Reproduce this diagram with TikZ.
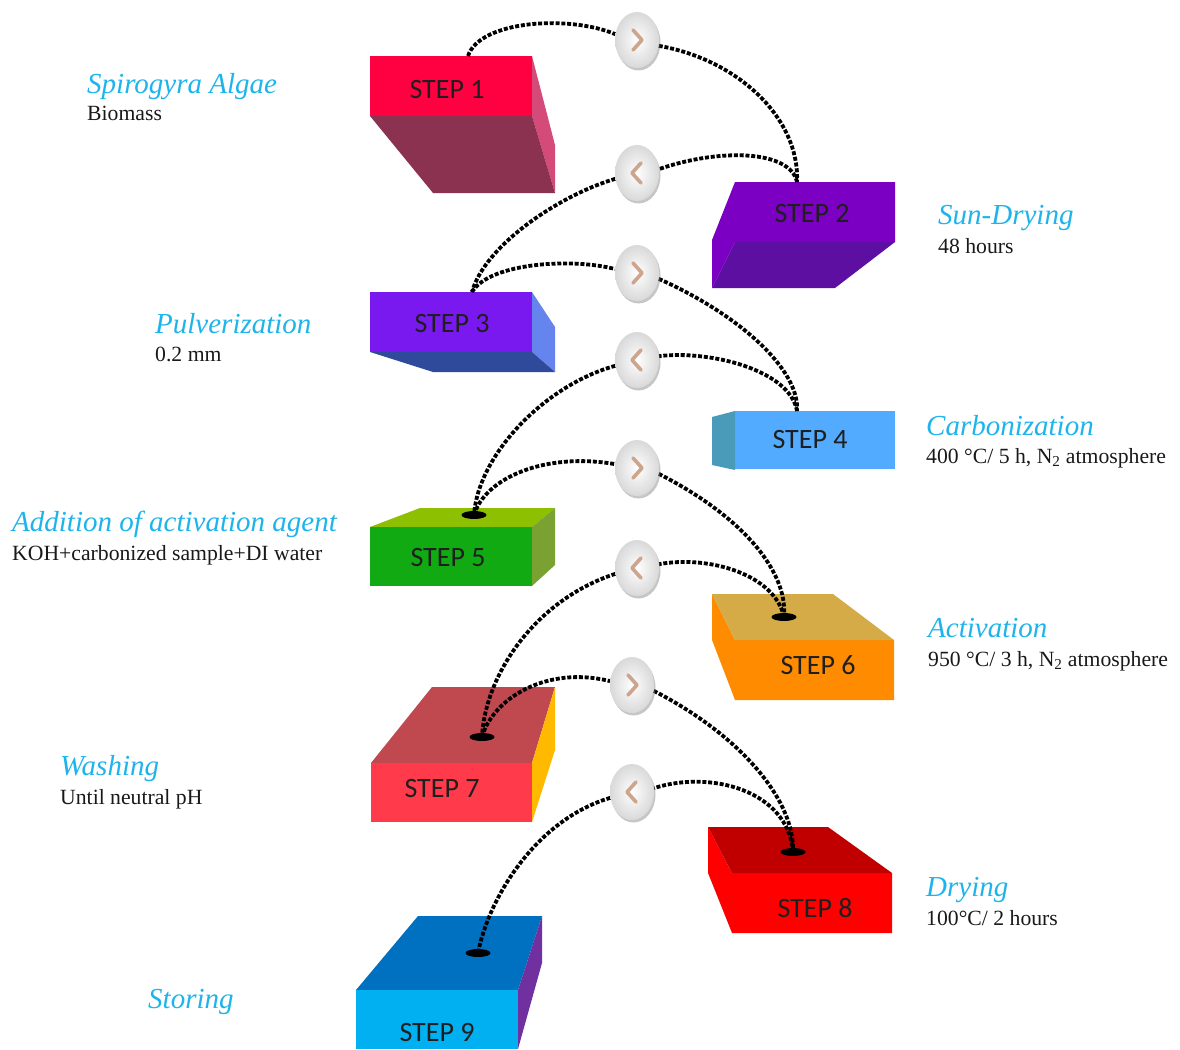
\documentclass[tikz,border=0pt]{standalone}
\usepackage{fontspec}
\setmainfont{Liberation Serif}
\newfontfamily\stepfont{Carlito}
\usetikzlibrary{shapes.geometric,shadows}
\definecolor{lblue}{RGB}{30,180,235}
\definecolor{chevc}{RGB}{205,165,140}
\begin{document}
\begin{tikzpicture}[x=1pt,y=-1pt,
 lab/.style={anchor=base west, inner sep=0pt, text=lblue, font=\fontsize{29}{31}\selectfont\itshape},
 sub/.style={anchor=base west, inner sep=0pt, text=black!90, font=\fontsize{21.7}{24}\selectfont},
 steptxt/.style={inner sep=0pt, font=\stepfont\fontsize{28}{30}\selectfont, text=black!88},
 link/.style={draw=black, line width=3.8pt, dash pattern=on 4pt off 1.8pt},
 hole/.style={ellipse, fill=black, minimum width=25pt, minimum height=8pt, inner sep=0pt},
 knob/.style={ellipse, minimum width=44pt, minimum height=56pt, inner sep=0pt,
   inner color=white, outer color=gray!30,
   drop shadow={shadow xshift=1.5pt, shadow yshift=-2.5pt, opacity=0.45, fill=gray}},
 chev/.style={draw=chevc, line width=3.6pt, line cap=round, line join=round}]
\useasboundingbox (0,0) rectangle (1180,1049);

% ---------- blocks ----------
% step 1
\fill[fill={rgb,255:red,255;green,0;blue,64}] (370,56) rectangle (532,116);
\fill[fill={rgb,255:red,212;green,74;blue,120}] (532,56) -- (555,145) -- (555,193) -- (532,116) -- cycle;
\fill[fill={rgb,255:red,139;green,50;blue,80}] (370,116) -- (532,116) -- (555,193) -- (433,193) -- cycle;
\node[steptxt] (s1) at (447,90) {STEP 1};
\coordinate (s1top) at (468,56);
% step 2
\fill[fill={rgb,255:red,123;green,0;blue,195}] (735,182) -- (895,182) -- (895,242) -- (735,242) -- (712,288) -- (712,240) -- cycle;
\fill[fill={rgb,255:red,92;green,15;blue,160}] (735,242) -- (895,242) -- (835,288) -- (712,288) -- cycle;
\node[steptxt] (s2) at (812,214) {STEP 2};
\coordinate (s2top) at (797,182);
% step 3
\fill[fill={rgb,255:red,122;green,24;blue,240}] (370,292) rectangle (532,352);
\fill[fill={rgb,255:red,101;green,132;blue,238}] (532,292) -- (555,327) -- (555,372) -- (532,352) -- cycle;
\fill[fill={rgb,255:red,47;green,74;blue,154}] (370,352) -- (532,352) -- (555,372) -- (433,372) -- cycle;
\node[steptxt] (s3) at (452,324) {STEP 3};
\coordinate (s3top) at (472,292);
% step 4
\fill[fill={rgb,255:red,82;green,171;blue,255}] (735,411) rectangle (895,469);
\fill[fill={rgb,255:red,74;green,154;blue,186}] (712,417) -- (735,411) -- (735,470) -- (712,465) -- cycle;
\node[steptxt] (s4) at (810,440) {STEP 4};
\coordinate (s4top) at (797,411);
% step 5
\fill[fill={rgb,255:red,141;green,192;blue,0}] (370,527) -- (420,508) -- (555,508) -- (532,527) -- cycle;
\fill[fill={rgb,255:red,18;green,170;blue,18}] (370,527) rectangle (532,586);
\fill[fill={rgb,255:red,122;green,162;blue,50}] (532,527) -- (555,508) -- (555,565) -- (532,586) -- cycle;
\node[steptxt] (s5) at (448,558) {STEP 5};
% step 6
\fill[fill={rgb,255:red,255;green,140;blue,0}] (712,594) -- (735,640) -- (894,640) -- (894,700) -- (735,700) -- (712,640) -- cycle;
\fill[fill={rgb,255:red,213;green,171;blue,72}] (712,594) -- (833,594) -- (894,640) -- (735,640) -- cycle;
\node[steptxt] (s6) at (818,665) {STEP 6};
% step 7
\fill[fill={rgb,255:red,192;green,73;blue,79}] (432,687) -- (555,687) -- (532,763) -- (371,763) -- cycle;
\fill[fill={rgb,255:red,255;green,58;blue,74}] (371,763) rectangle (532,822);
\fill[fill={rgb,255:red,255;green,186;blue,0}] (555,687) -- (555,750) -- (532,822) -- (532,763) -- cycle;
\node[steptxt] (s7) at (442,789) {STEP 7};
% step 8
\fill[fill={rgb,255:red,255;green,0;blue,0}] (708,827) -- (732,873) -- (892,873) -- (892,933) -- (732,933) -- (708,873) -- cycle;
\fill[fill={rgb,255:red,192;green,0;blue,0}] (708,827) -- (828,827) -- (892,873) -- (732,873) -- cycle;
\node[steptxt] (s8) at (815,908) {STEP 8};
% step 9
\fill[fill={rgb,255:red,0;green,112;blue,192}] (418,916) -- (542,916) -- (518,990) -- (356,990) -- cycle;
\fill[fill={rgb,255:red,0;green,176;blue,240}] (356,990) rectangle (518,1049);
\fill[fill={rgb,255:red,112;green,48;blue,160}] (542,916) -- (542,963) -- (518,1049) -- (518,990) -- cycle;
\node[steptxt] (s9) at (437,1032) {STEP 9};

% ---------- knobs (positions) ----------
\coordinate (k1) at (637,40);
\coordinate (k2) at (637,173);
\coordinate (k3) at (637,273);
\coordinate (k4) at (637,360);
\coordinate (k5) at (637,468);
\coordinate (k6) at (637,568);
\coordinate (k7) at (632,685);
\coordinate (k8) at (632,792);
\path (k1) node[ellipse,minimum width=44pt,minimum height=56pt,inner sep=0pt] (c1) {};
\path (k2) node[ellipse,minimum width=44pt,minimum height=56pt,inner sep=0pt] (c2) {};
\path (k3) node[ellipse,minimum width=44pt,minimum height=56pt,inner sep=0pt] (c3) {};
\path (k4) node[ellipse,minimum width=44pt,minimum height=56pt,inner sep=0pt] (c4) {};
\path (k5) node[ellipse,minimum width=44pt,minimum height=56pt,inner sep=0pt] (c5) {};
\path (k6) node[ellipse,minimum width=44pt,minimum height=56pt,inner sep=0pt] (c6) {};
\path (k7) node[ellipse,minimum width=44pt,minimum height=56pt,inner sep=0pt] (c7) {};
\path (k8) node[ellipse,minimum width=44pt,minimum height=56pt,inner sep=0pt] (c8) {};

% holes
\coordinate (h5) at (474,515);
\coordinate (h6) at (784,617);
\coordinate (h7) at (482,737);
\coordinate (h8) at (793,852);
\coordinate (h9) at (478,953);

% ---------- links ----------
\draw[link] (s1top) .. controls (480,20) and (570,15) .. (c1.165);
\draw[link] (c1.-15) .. controls (740,60) and (800,120) .. (s2top);
\draw[link] (s2top) .. controls (790,150) and (720,148) .. (c2.10);
\draw[link] (c2.195) .. controls (560,195) and (485,245) .. (s3top);
\draw[link] (s3top) .. controls (490,262) and (575,258) .. (c3.170);
\draw[link] (c3.-15) .. controls (740,315) and (800,370) .. (s4top);
\draw[link] (s4top) .. controls (790,370) and (710,350) .. (c4.10);
\draw[link] (c4.195) .. controls (545,385) and (478,455) .. (h5);
\draw[link] (h5) .. controls (485,478) and (545,452) .. (c5.170);
\draw[link] (c5.-15) .. controls (740,515) and (788,570) .. (h6);
\draw[link] (h6) .. controls (775,575) and (710,555) .. (c6.10);
\draw[link] (c6.195) .. controls (535,600) and (485,675) .. (h7);
\draw[link] (h7) .. controls (492,700) and (545,665) .. (c7.170);
\draw[link] (c7.-15) .. controls (740,735) and (795,800) .. (h8);
\draw[link] (h8) .. controls (788,790) and (710,770) .. (c8.10);
\draw[link] (c8.195) .. controls (535,820) and (488,900) .. (h9);

\node[hole] (d5) at (h5) {};
\node[hole] (d6) at (h6) {};
\node[hole] (d7) at (h7) {};
\node[hole] (d8) at (h8) {};
\node[hole] (d9) at (h9) {};

% knob faces
\node[knob] (kn1) at (k1) {};
\node[knob] (kn2) at (k2) {};
\node[knob] (kn3) at (k3) {};
\node[knob] (kn4) at (k4) {};
\node[knob] (kn5) at (k5) {};
\node[knob] (kn6) at (k6) {};
\node[knob] (kn7) at (k7) {};
\node[knob] (kn8) at (k8) {};
% chevrons: > for odd, < for even
\draw[chev,shift={(k1)}] (-4,-10) -- (5,0) -- (-4,10);
\draw[chev,shift={(k2)}] (4,-10) -- (-5,0) -- (4,10);
\draw[chev,shift={(k3)}] (-4,-10) -- (5,0) -- (-4,10);
\draw[chev,shift={(k4)}] (4,-10) -- (-5,0) -- (4,10);
\draw[chev,shift={(k5)}] (-4,-10) -- (5,0) -- (-4,10);
\draw[chev,shift={(k6)}] (4,-10) -- (-5,0) -- (4,10);
\draw[chev,shift={(k7)}] (-4,-10) -- (5,0) -- (-4,10);
\draw[chev,shift={(k8)}] (4,-10) -- (-5,0) -- (4,10);

% ---------- labels ----------
\node[lab] (l1) at (87,93) {Spirogyra Algae};
\node[sub] (m1) at (87,120) {Biomass};
\node[lab] (l2) at (938,224) {Sun-Drying};
\node[sub] (m2) at (938,253) {48 hours};
\node[lab] (l3) at (155,333) {Pulverization};
\node[sub] (m3) at (155,361) {0.2 mm};
\node[lab] (l4) at (926,435) {Carbonization};
\node[sub] (m4) at (926,463) {400 °C/ 5 h, N\textsubscript{2} atmosphere};
\node[lab] (l5) at (12,531) {Addition of activation agent};
\node[sub] (m5) at (12,560) {KOH+carbonized sample+DI water};
\node[lab] (l6) at (928,637) {Activation};
\node[sub] (m6) at (928,666) {950 °C/ 3 h, N\textsubscript{2} atmosphere};
\node[lab] (l7) at (60,775) {Washing};
\node[sub] (m7) at (60,804) {Until neutral pH};
\node[lab] (l8) at (926,896) {Drying};
\node[sub] (m8) at (926,925) {100°C/ 2 hours};
\node[lab] (l9) at (148,1008) {Storing};
\end{tikzpicture}
\end{document}
